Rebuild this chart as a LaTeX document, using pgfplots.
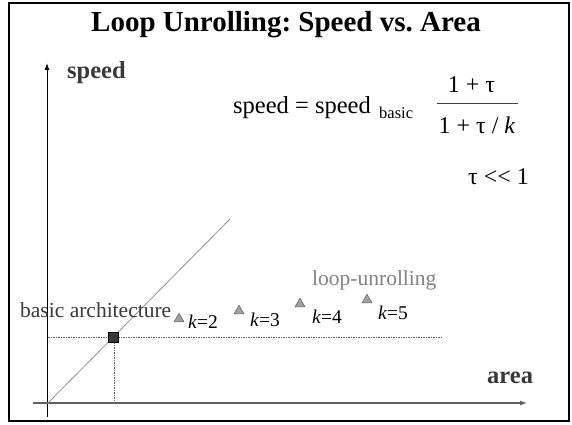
\documentclass[border=0pt]{standalone}
\usepackage{fontspec}
\setmainfont{Liberation Serif}[Ligatures=NoCommon]
\usepackage{pgfplots}
\pgfplotsset{compat=1.18}
\usetikzlibrary{arrows.meta}
\frenchspacing
\definecolor{lblgray}{HTML}{383838}
\definecolor{unrollgray}{HTML}{808080}
\definecolor{trifill}{HTML}{A0A0A0}
\definecolor{axgray}{HTML}{606060}
\definecolor{diaggray}{HTML}{909090}
\begin{document}
\begin{tikzpicture}
\begin{axis}[width=572pt,height=424pt,scale only axis,
  xmin=0,xmax=572,ymin=0,ymax=424,
  axis lines=none,ticks=none,clip=false]
\path (axis cs:0,0) rectangle (axis cs:572,424);
\draw[black,line width=2.4pt] (axis cs:9,3) rectangle (axis cs:569,421);
% axes
\addplot[black,line width=1pt,mark=none,-{Latex[length=7pt,width=5pt]}] coordinates {(47,7) (47,361)};
\addplot[axgray,line width=1.2pt,mark=none,-{Latex[length=7pt,width=5pt]}] coordinates {(33,21) (527,21)};
% diagonal
\addplot[diaggray,line width=0.8pt,mark=none] coordinates {(48,21) (230,205)};
% dashed guide lines
\addplot[axgray,line width=0.6pt,mark=none,dash pattern=on 1.5pt off 1pt] coordinates {(48,87) (442,87)};
\addplot[axgray,line width=0.6pt,mark=none,dash pattern=on 1.5pt off 1pt] coordinates {(114,87) (114,21)};
% basic architecture
\addplot[only marks,mark=square*,mark size=5pt,mark options={fill=lblgray,draw=black,line width=0.8pt}] coordinates {(113,87)};
% loop unrolling
\addplot[only marks,mark=triangle*,mark size=5.8pt,mark options={fill=trifill,draw=axgray,line width=0.5pt}] coordinates {(179,105) (239,113) (300,120) (367,124)};
% texts
\node[anchor=base,font=\fontsize{29}{34}\selectfont\bfseries] at (axis cs:286,392) {Loop Unrolling: Speed vs. Area};
\node[anchor=base west,inner sep=0pt,text=lblgray,font=\fontsize{24.5}{28}\selectfont\bfseries] at (axis cs:67,345) {speed};
\node[anchor=base west,inner sep=0pt,text=lblgray,font=\fontsize{24.5}{28}\selectfont\bfseries] at (axis cs:487,41) {area};
\node[anchor=base west,inner sep=0pt,text=lblgray,font=\fontsize{21.5}{25}\selectfont] at (axis cs:20,107) {basic architecture};
\node[anchor=base west,inner sep=0pt,text=unrollgray,font=\fontsize{21.5}{25}\selectfont] at (axis cs:312,139) {loop-unrolling};
\node[anchor=base west,inner sep=0pt,font=\fontsize{19.5}{23}\selectfont] at (axis cs:188,96) {\textit{k}=2};
\node[anchor=base west,inner sep=0pt,font=\fontsize{19.5}{23}\selectfont] at (axis cs:250,98) {\textit{k}=3};
\node[anchor=base west,inner sep=0pt,font=\fontsize{19.5}{23}\selectfont] at (axis cs:312,101) {\textit{k}=4};
\node[anchor=base west,inner sep=0pt,font=\fontsize{19.5}{23}\selectfont] at (axis cs:378,105) {\textit{k}=5};
% formula
\node[anchor=base west,inner sep=0pt,font=\fontsize{24.5}{28}\selectfont] at (axis cs:233,311) {speed = speed};
\node[anchor=base west,inner sep=0pt,font=\fontsize{16.5}{19}\selectfont] at (axis cs:379,306) {basic};
\node[anchor=base,inner sep=0pt,font=\fontsize{24}{28}\selectfont] at (axis cs:471.5,332) {1 + τ};
\draw[black!75,line width=1pt] (axis cs:437,321) -- (axis cs:518,321);
\node[anchor=base,inner sep=0pt,font=\fontsize{24}{28}\selectfont] at (axis cs:477,291) {1 + τ / \textit{k}};
\node[anchor=base west,inner sep=0pt,font=\fontsize{24}{28}\selectfont] at (axis cs:468,240) {τ {<}\kern0pt{<} 1};
\end{axis}
\end{tikzpicture}
\end{document}
